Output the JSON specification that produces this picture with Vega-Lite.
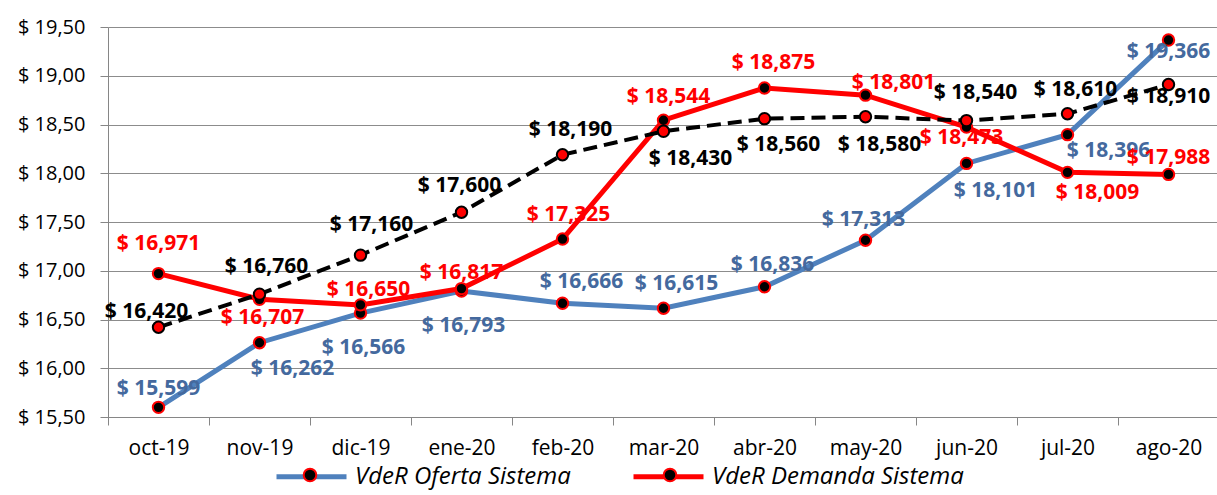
{
  "$schema": "https://vega.github.io/schema/vega-lite/v6.json",
  "width": 1111,
  "height": 390,
  "autosize": {"type": "none"},
  "padding": {"left": 108, "top": 27, "right": 0, "bottom": 78},
  "background": "white",
  "config": {
    "locale": {"number": {"decimal": ",", "thousands": ".", "grouping": [3], "currency": ["$ ", ""]}},
    "view": {"stroke": null},
    "font": "Open Sans"
  },
  "params": [
    {"name": "meses", "value": ["oct-19","nov-19","dic-19","ene-20","feb-20","mar-20","abr-20","may-20","jun-20","jul-20","ago-20"]},
    {"name": "dxO", "value": [0,33,3,2,19,13,8,-2,29,41,0]},
    {"name": "dyO", "value": [-18,26,35,35,-21,-24,-22,-20,28,16,12]},
    {"name": "dxD", "value": [0,3,8,0,6,5,9,28,-5,30,0]},
    {"name": "dyD", "value": [-30,19,-15,-16,-24,-23,-25,-12,11,21,-16]},
    {"name": "dxR", "value": [-12,7,11,-2,8,27,14,14,9,8,0]},
    {"name": "dyR", "value": [-15,-27,-30,-26,-25,28,26,28,-28,-24,12]}
  ],
  "data": {
    "values": [
      {"mes": "oct-19", "serie": "VdeR Oferta Sistema", "valor": 15.599},
      {"mes": "nov-19", "serie": "VdeR Oferta Sistema", "valor": 16.262},
      {"mes": "dic-19", "serie": "VdeR Oferta Sistema", "valor": 16.566},
      {"mes": "ene-20", "serie": "VdeR Oferta Sistema", "valor": 16.793},
      {"mes": "feb-20", "serie": "VdeR Oferta Sistema", "valor": 16.666},
      {"mes": "mar-20", "serie": "VdeR Oferta Sistema", "valor": 16.615},
      {"mes": "abr-20", "serie": "VdeR Oferta Sistema", "valor": 16.836},
      {"mes": "may-20", "serie": "VdeR Oferta Sistema", "valor": 17.313},
      {"mes": "jun-20", "serie": "VdeR Oferta Sistema", "valor": 18.101},
      {"mes": "jul-20", "serie": "VdeR Oferta Sistema", "valor": 18.396},
      {"mes": "ago-20", "serie": "VdeR Oferta Sistema", "valor": 19.366},
      {"mes": "oct-19", "serie": "VdeR Demanda Sistema", "valor": 16.971},
      {"mes": "nov-19", "serie": "VdeR Demanda Sistema", "valor": 16.707},
      {"mes": "dic-19", "serie": "VdeR Demanda Sistema", "valor": 16.650},
      {"mes": "ene-20", "serie": "VdeR Demanda Sistema", "valor": 16.817},
      {"mes": "feb-20", "serie": "VdeR Demanda Sistema", "valor": 17.325},
      {"mes": "mar-20", "serie": "VdeR Demanda Sistema", "valor": 18.544},
      {"mes": "abr-20", "serie": "VdeR Demanda Sistema", "valor": 18.875},
      {"mes": "may-20", "serie": "VdeR Demanda Sistema", "valor": 18.801},
      {"mes": "jun-20", "serie": "VdeR Demanda Sistema", "valor": 18.473},
      {"mes": "jul-20", "serie": "VdeR Demanda Sistema", "valor": 18.009},
      {"mes": "ago-20", "serie": "VdeR Demanda Sistema", "valor": 17.988},
      {"mes": "oct-19", "serie": "Referencia", "valor": 16.420},
      {"mes": "nov-19", "serie": "Referencia", "valor": 16.760},
      {"mes": "dic-19", "serie": "Referencia", "valor": 17.160},
      {"mes": "ene-20", "serie": "Referencia", "valor": 17.600},
      {"mes": "feb-20", "serie": "Referencia", "valor": 18.190},
      {"mes": "mar-20", "serie": "Referencia", "valor": 18.430},
      {"mes": "abr-20", "serie": "Referencia", "valor": 18.560},
      {"mes": "may-20", "serie": "Referencia", "valor": 18.580},
      {"mes": "jun-20", "serie": "Referencia", "valor": 18.540},
      {"mes": "jul-20", "serie": "Referencia", "valor": 18.610},
      {"mes": "ago-20", "serie": "Referencia", "valor": 18.910}
    ]
  },
  "encoding": {
    "x": {
      "field": "mes", "type": "ordinal",
      "sort": ["oct-19","nov-19","dic-19","ene-20","feb-20","mar-20","abr-20","may-20","jun-20","jul-20","ago-20"],
      "scale": {"type": "band", "paddingInner": 0, "paddingOuter": 0},
      "axis": {
        "title": null, "labelAngle": 0, "labelFontSize": 21, "labelColor": "black", "labelFont": "Open Sans",
        "tickBand": "extent", "tickSize": 8, "tickColor": "#868686", "domainColor": "#868686",
        "grid": false, "labelPadding": 12
      }
    },
    "y": {
      "field": "valor", "type": "quantitative",
      "scale": {"domain": [15.5, 19.5], "nice": false, "zero": false},
      "axis": {
        "title": null, "values": [15.5, 16, 16.5, 17, 17.5, 18, 18.5, 19, 19.5], "format": "$.2f",
        "labelFontSize": 20, "labelColor": "black", "labelFont": "Open Sans",
        "tickSize": 8, "tickColor": "#868686", "domainColor": "#868686",
        "grid": true, "gridColor": "#8C8C8C", "gridWidth": 1.2, "labelPadding": 15
      }
    }
  },
  "layer": [
    {
      "transform": [{"filter": "datum.serie != 'Referencia'"}],
      "mark": {"type": "line", "strokeWidth": 5},
      "encoding": {
        "color": {
          "field": "serie", "type": "nominal",
          "scale": {"domain": ["VdeR Oferta Sistema", "VdeR Demanda Sistema"], "range": ["#4F81BD", "#FF0000"]},
          "legend": {
            "orient": "none", "legendX": 166, "legendY": 412, "direction": "horizontal", "title": null,
            "symbolType": "stroke", "symbolSize": 4900, "symbolStrokeWidth": 5,
            "labelFontSize": 24, "labelFontStyle": "italic", "labelFont": "Open Sans", "labelColor": "black",
            "labelOffset": 6, "columnPadding": 52, "labelLimit": 400
          }
        }
      }
    },
    {
      "transform": [{"filter": "datum.serie == 'Referencia'"}],
      "mark": {"type": "line", "strokeWidth": 4, "strokeDash": [14, 7], "color": "black"},
      "encoding": {}
    },
    {
      "transform": [{"filter": "datum.serie != 'Referencia'"}, {"calculate": "datum.serie", "as": "serie_marcador"}],
      "mark": {"type": "point", "filled": true, "size": 130, "stroke": "#FF0000", "strokeWidth": 2, "opacity": 1},
      "encoding": {
        "fill": {
          "field": "serie_marcador", "type": "nominal",
          "sort": ["VdeR Oferta Sistema", "VdeR Demanda Sistema"],
          "scale": {"range": ["black", "black"]},
          "legend": {
            "orient": "none", "legendX": 166, "legendY": 412, "direction": "horizontal", "title": null,
            "symbolType": "M0.18,0A0.18,0.18,0,1,1,-0.18,0A0.18,0.18,0,1,1,0.18,0Z",
            "symbolSize": 4900, "symbolStrokeWidth": 2, "symbolStrokeColor": "#FF0000",
            "labelExpr": "''",
            "labelFontSize": 24, "labelOffset": 6, "columnPadding": 282, "labelLimit": 400,
            "symbolOpacity": 1
          }
        }
      }
    },
    {
      "transform": [{"filter": "datum.serie == 'Referencia'"}],
      "mark": {"type": "point", "filled": true, "size": 130, "fill": "#FF0000", "stroke": "black", "strokeWidth": 2, "opacity": 1}
    },
    {
      "mark": {
        "type": "text", "fontSize": 21, "fontWeight": "bold", "font": "Open Sans", "align": "center", "baseline": "middle",
        "dx": {"expr": "datum.serie == 'VdeR Oferta Sistema' ? dxO[indexof(meses, datum.mes)] : datum.serie == 'VdeR Demanda Sistema' ? dxD[indexof(meses, datum.mes)] : dxR[indexof(meses, datum.mes)]"},
        "dy": {"expr": "datum.serie == 'VdeR Oferta Sistema' ? dyO[indexof(meses, datum.mes)] : datum.serie == 'VdeR Demanda Sistema' ? dyD[indexof(meses, datum.mes)] : dyR[indexof(meses, datum.mes)]"}
      },
      "encoding": {
        "text": {"field": "valor", "type": "quantitative", "format": "$.3f"},
        "color": {
          "condition": [
            {"test": "datum.serie == 'VdeR Oferta Sistema'", "value": "#44699E"},
            {"test": "datum.serie == 'VdeR Demanda Sistema'", "value": "#FF0000"}
          ],
          "value": "black"
        }
      }
    }
  ]
}
